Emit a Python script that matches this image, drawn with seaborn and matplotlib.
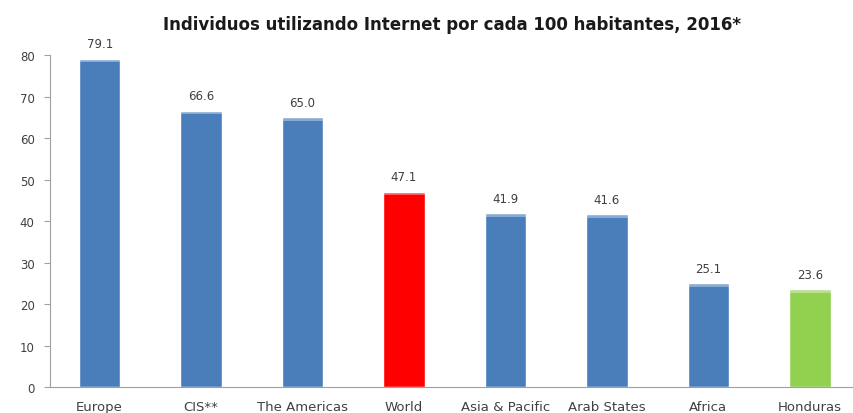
import matplotlib
matplotlib.use("Agg")
import matplotlib.pyplot as plt
import seaborn as sns
import pandas as pd

regions = ["Europe", "CIS**", "The Americas", "World", "Asia & Pacific",
           "Arab States", "Africa", "Honduras"]
users_per_100 = [79.1, 66.6, 65.0, 47.1, 41.9, 41.6, 25.1, 23.6]
bar_colors = ["#4a7ebb", "#4a7ebb", "#4a7ebb", "#ff0000", "#4a7ebb",
              "#4a7ebb", "#4a7ebb", "#92d050"]
y_ticks = [0, 10, 20, 30, 40, 50, 60, 70, 80]

sns.set_theme(style="white")
plt.rcParams["font.family"] = ["DejaVu Sans"]

df = pd.DataFrame({"region": regions, "value": users_per_100})

fig = plt.figure(figsize=(8.54, 4.14), dpi=100)
ax = fig.add_axes([0.0585, 0.0628, 0.9415, 0.8019])

sns.barplot(data=df, x="region", y="value", hue="region",
            palette=dict(zip(regions, bar_colors)), legend=False,
            width=0.41, ax=ax, saturation=1)

# light cap on each bar top plus the value above it
for patch, val in zip(ax.patches, users_per_100):
    x0 = patch.get_x()
    w = patch.get_width()
    ax.bar(x0 + w / 2, 0.9, bottom=val - 0.9, width=w,
           color="white", alpha=0.35, linewidth=0)
    ax.text(x0 + w / 2, val + 2.0, f"{val:.1f}", ha="center", va="bottom",
            fontsize=8.5, color="#404040", clip_on=False)

ax.set_ylim(0, 80)
ax.set_xlim(-0.49, 7.436)
ax.set_yticks(y_ticks)
ax.set_yticklabels([str(t) for t in y_ticks], fontsize=8.5, color="#404040")
ax.tick_params(axis="x", labelsize=9.5, labelcolor="#404040", length=0, pad=9)
ax.tick_params(axis="y", length=4, width=0.8, color="#a0a0a0", left=True, pad=7)
ax.set_xlabel("")
ax.set_ylabel("")

for side in ["top", "right"]:
    ax.spines[side].set_visible(False)
for side in ["left", "bottom"]:
    ax.spines[side].set_color("#a0a0a0")
    ax.spines[side].set_linewidth(0.8)

fig.text(0.529, 0.94, "Individuos utilizando Internet por cada 100 habitantes, 2016*",
         ha="center", va="center", fontsize=12, fontweight="bold", color="#1a1a1a")

fig.savefig("out.png", dpi=100)
